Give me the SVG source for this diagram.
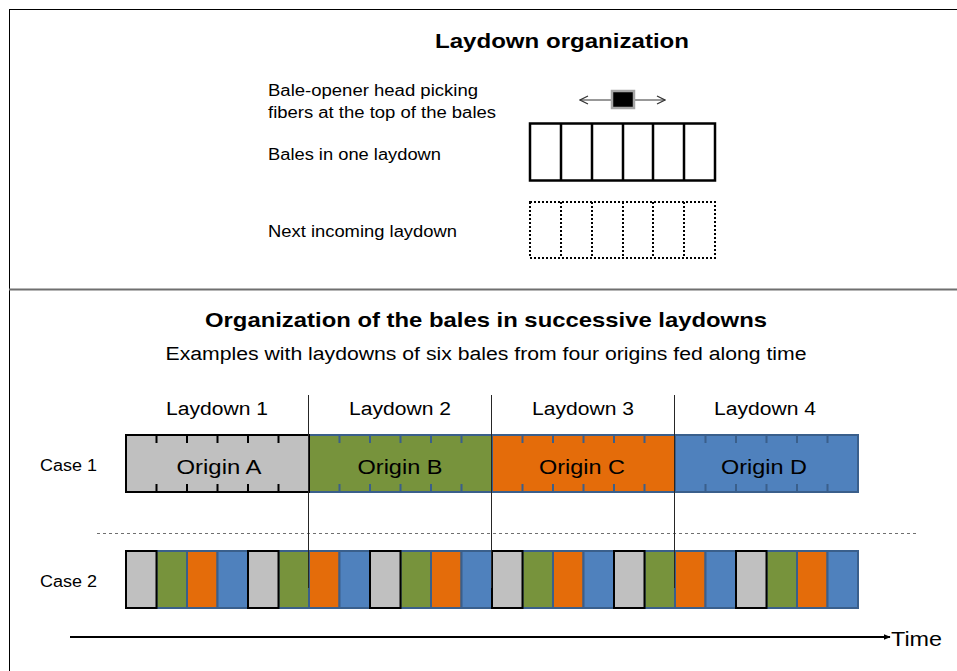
<svg xmlns="http://www.w3.org/2000/svg" width="957" height="671" viewBox="0 0 957 671">
<defs>
<style>
text{font-family:"Liberation Sans",Arial,sans-serif;fill:#000}
.b{font-weight:bold;font-size:21px}
.lbl{font-size:16px}
.ld{font-size:18px}
.org{font-size:21px}
.gray{fill:#c0c0c0;stroke:#000;stroke-width:2}
.grn{fill:#77933c;stroke:#3a5f8b;stroke-width:2}
.ora{fill:#e46c0a;stroke:#3a5f8b;stroke-width:2}
.blu{fill:#4f81bd;stroke:#3a5f8b;stroke-width:2}
.tk{stroke:#3a5f8b;stroke-width:2}
.tkb{stroke:#000;stroke-width:2}
.sep{stroke:#262626;stroke-width:1}
</style>
<marker id="open" viewBox="0 0 10 10" refX="9" refY="5" markerWidth="10" markerHeight="10" orient="auto-start-reverse" markerUnits="userSpaceOnUse">
<path d="M1,1 L9,5 L1,9" fill="none" stroke="#333" stroke-width="1.2"/>
</marker>
<marker id="solid" viewBox="0 0 10 10" refX="9" refY="5" markerWidth="7" markerHeight="7" orient="auto" markerUnits="userSpaceOnUse">
<path d="M0,1 L10,5 L0,9 z" fill="#000"/>
</marker>
</defs>
<rect x="0" y="0" width="957" height="671" fill="#fff"/>
<g id="frame">
<line x1="9" y1="9.5" x2="957" y2="9.5" stroke="#000" stroke-width="1"/>
<line x1="9.5" y1="9" x2="9.5" y2="671" stroke="#000" stroke-width="1"/>
<line x1="9" y1="289.5" x2="957" y2="289.5" stroke="#6f6f6f" stroke-width="2"/>
</g>
<g id="top-section">
<text class="b" x="562" y="48" text-anchor="middle" textLength="254" lengthAdjust="spacingAndGlyphs">Laydown organization</text>
<text class="lbl" x="268" y="96" textLength="210" lengthAdjust="spacingAndGlyphs">Bale-opener head picking</text>
<text class="lbl" x="268" y="118" textLength="228" lengthAdjust="spacingAndGlyphs">fibers at the top of the bales</text>
<text class="lbl" x="268" y="160" textLength="173" lengthAdjust="spacingAndGlyphs">Bales in one laydown</text>
<text class="lbl" x="268" y="237" textLength="189" lengthAdjust="spacingAndGlyphs">Next incoming laydown</text>
</g>
<g id="opener-head">
<line x1="580" y1="100" x2="665" y2="100" stroke="#333" stroke-width="1" marker-start="url(#open)" marker-end="url(#open)"/>
<rect x="612" y="91" width="22" height="17" fill="#000" stroke="#a6a6a6" stroke-width="2.5"/>
</g>
<g id="bales-one-laydown" fill="none" stroke="#000" stroke-width="2.5">
<rect x="530" y="123.5" width="185" height="57"/>
<path d="M561,123.5V180.5M592,123.5V180.5M623,123.5V180.5M653,123.5V180.5M684,123.5V180.5"/>
</g>
<g id="next-laydown" fill="none" stroke="#000" stroke-width="2" stroke-dasharray="2 2">
<rect x="530" y="202" width="185" height="56"/>
<path d="M561,202V258M592,202V258M623,202V258M653,202V258M684,202V258"/>
</g>
<g id="bottom-titles">
<text class="b" x="486" y="327" text-anchor="middle" textLength="562" lengthAdjust="spacingAndGlyphs">Organization of the bales in successive laydowns</text>
<text class="ld" x="486" y="360" text-anchor="middle" textLength="641" lengthAdjust="spacingAndGlyphs">Examples with laydowns of six bales from four origins fed along time</text>
<text class="ld" x="217" y="415" text-anchor="middle" textLength="102" lengthAdjust="spacingAndGlyphs">Laydown 1</text>
<text class="ld" x="400" y="415" text-anchor="middle" textLength="102" lengthAdjust="spacingAndGlyphs">Laydown 2</text>
<text class="ld" x="583" y="415" text-anchor="middle" textLength="102" lengthAdjust="spacingAndGlyphs">Laydown 3</text>
<text class="ld" x="765" y="415" text-anchor="middle" textLength="102" lengthAdjust="spacingAndGlyphs">Laydown 4</text>
<text class="lbl" x="40" y="471" textLength="57" lengthAdjust="spacingAndGlyphs">Case 1</text>
<text class="lbl" x="40" y="587" textLength="57" lengthAdjust="spacingAndGlyphs">Case 2</text>
</g>
<g id="case1">
<g id="origin-B">
<rect class="grn" x="309" y="435" width="183" height="57"/>
<path class="tk" d="M339.5,435v8M370,435v8M400.5,435v8M431,435v8M461.5,435v8M339.5,484v8M370,484v8M400.5,484v8M431,484v8M461.5,484v8"/>
<text class="org" x="400" y="474" text-anchor="middle" textLength="85" lengthAdjust="spacingAndGlyphs">Origin B</text>
</g>
<g id="origin-C">
<rect class="ora" x="492" y="435" width="183" height="57"/>
<path class="tk" d="M522.5,435v8M553,435v8M583.5,435v8M614,435v8M644.5,435v8M522.5,484v8M553,484v8M583.5,484v8M614,484v8M644.5,484v8"/>
<text class="org" x="582" y="474" text-anchor="middle" textLength="86" lengthAdjust="spacingAndGlyphs">Origin C</text>
</g>
<g id="origin-D">
<rect class="blu" x="675" y="435" width="183" height="57"/>
<path class="tk" d="M705.5,435v8M736,435v8M766.5,435v8M797,435v8M827.5,435v8M705.5,484v8M736,484v8M766.5,484v8M797,484v8M827.5,484v8"/>
<text class="org" x="764" y="474" text-anchor="middle" textLength="86" lengthAdjust="spacingAndGlyphs">Origin D</text>
</g>
<g id="origin-A">
<rect class="gray" x="126" y="435" width="183" height="57"/>
<path class="tkb" d="M156.5,435v8M187,435v8M217.5,435v8M248,435v8M278.5,435v8M156.5,484v8M187,484v8M217.5,484v8M248,484v8M278.5,484v8"/>
<text class="org" x="219" y="474" text-anchor="middle" textLength="85" lengthAdjust="spacingAndGlyphs">Origin A</text>
</g>
</g>
<g id="divider">
<line x1="97" y1="533.5" x2="918" y2="533.5" stroke="#6f6f6f" stroke-width="1" stroke-dasharray="3 3"/>
</g>
<g id="case2">
<rect class="grn" x="156.5" y="551" width="30.5" height="57"/>
<rect class="ora" x="187" y="551" width="30.5" height="57"/>
<rect class="blu" x="217.5" y="551" width="30.5" height="57"/>
<rect class="grn" x="278.5" y="551" width="30.5" height="57"/>
<rect class="ora" x="309" y="551" width="30.5" height="57"/>
<rect class="blu" x="339.5" y="551" width="30.5" height="57"/>
<rect class="grn" x="400.5" y="551" width="30.5" height="57"/>
<rect class="ora" x="431" y="551" width="30.5" height="57"/>
<rect class="blu" x="461.5" y="551" width="30.5" height="57"/>
<rect class="grn" x="522.5" y="551" width="30.5" height="57"/>
<rect class="ora" x="553" y="551" width="30.5" height="57"/>
<rect class="blu" x="583.5" y="551" width="30.5" height="57"/>
<rect class="grn" x="644.5" y="551" width="30.5" height="57"/>
<rect class="ora" x="675" y="551" width="30.5" height="57"/>
<rect class="blu" x="705.5" y="551" width="30.5" height="57"/>
<rect class="grn" x="766.5" y="551" width="30.5" height="57"/>
<rect class="ora" x="797" y="551" width="30.5" height="57"/>
<rect class="blu" x="827.5" y="551" width="30.5" height="57"/>
<rect class="gray" x="126" y="551" width="30.5" height="57"/>
<rect class="gray" x="248" y="551" width="30.5" height="57"/>
<rect class="gray" x="370" y="551" width="30.5" height="57"/>
<rect class="gray" x="492" y="551" width="30.5" height="57"/>
<rect class="gray" x="614" y="551" width="30.5" height="57"/>
<rect class="gray" x="736" y="551" width="30.5" height="57"/>
</g>
<g id="connectors">
<line class="sep" x1="308.5" y1="395" x2="308.5" y2="588"/>
<line class="sep" x1="491.5" y1="395" x2="491.5" y2="588"/>
<line class="sep" x1="674.5" y1="395" x2="674.5" y2="588"/>
<line x1="70" y1="637" x2="890" y2="637" stroke="#000" stroke-width="2" marker-end="url(#solid)"/>
</g>
<g id="time-label">
<text x="891" y="646" font-size="20" textLength="51" lengthAdjust="spacingAndGlyphs">Time</text>
</g>
</svg>
